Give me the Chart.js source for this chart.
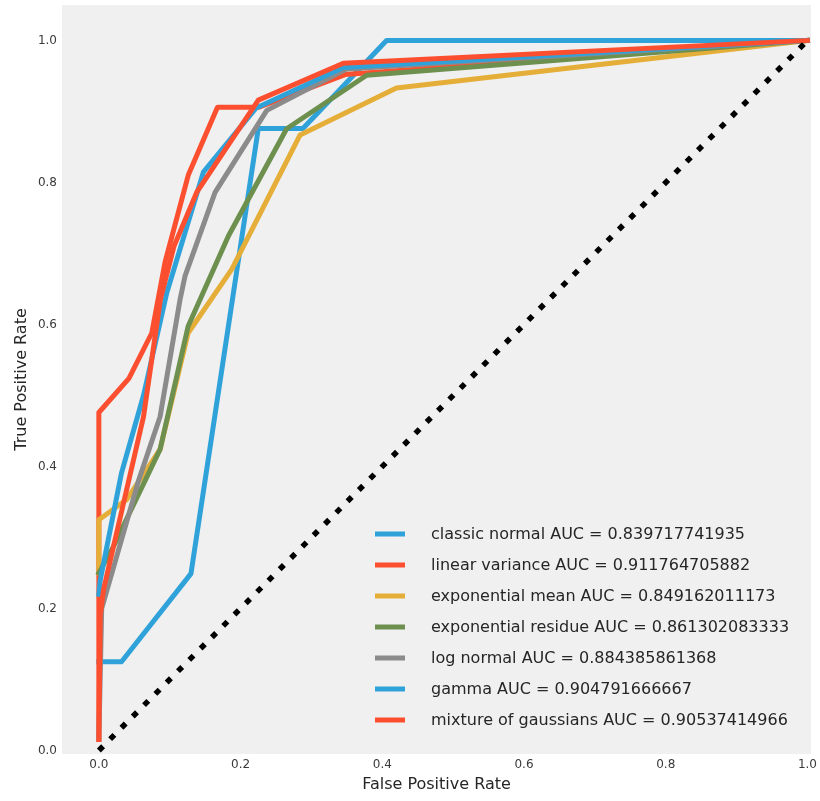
<!DOCTYPE html>
<html>
<head>
<meta charset="utf-8">
<script src="https://cdn.jsdelivr.net/npm/chart.js@4.4.1/dist/chart.umd.min.js"></script>
<style>
  html, body { margin: 0; padding: 0; background: #ffffff; }
  #wrap { width: 820px; height: 801px; }
</style>
</head>
<body>
<div id="wrap"><canvas id="roc"></canvas></div>
<script>
// Legend labels, in plotting order
const seriesLabels = [
    'classic normal AUC = 0.839717741935',
    'linear variance AUC = 0.911764705882',
    'exponential mean AUC = 0.849162011173',
    'exponential residue AUC = 0.861302083333',
    'log normal AUC = 0.884385861368',
    'gamma AUC = 0.904791666667',
    'mixture of gaussians AUC = 0.90537414966'
];
const seriesColors = ['#30a2da', '#fc4f30', '#e5ae38', '#6d904f', '#8b8b8b', '#30a2da', '#fc4f30'];

// ROC points (false positive rate / true positive rate)
const classicFpr = [0, 0.032, 0.13, 0.225, 0.288, 0.406, 1.0];
const classicTpr = [0.125, 0.125, 0.249, 0.876, 0.876, 1.0, 1.0];

const linearFpr = [0, 0, 0.0425, 0.0747, 0.0935, 0.1264, 0.1674, 0.226, 0.3475, 1.0];
const linearTpr = [0.0155, 0.476, 0.524, 0.588, 0.688, 0.811, 0.906, 0.906, 0.952, 1.0];

const expMeanFpr = [0, 0, 0.039, 0.0864, 0.126, 0.1877, 0.284, 0.42, 1.0];
const expMeanTpr = [0.25, 0.325, 0.353, 0.424, 0.588, 0.678, 0.867, 0.933, 1.0];

const expResFpr = [0, 0.0205, 0.0864, 0.126, 0.183, 0.265, 0.378, 1.0];
const expResTpr = [0.25, 0.287, 0.424, 0.5975, 0.725, 0.8757, 0.951, 1.0];

const logNormFpr = [0, 0.004, 0.056, 0.0864, 0.1147, 0.1217, 0.164, 0.237, 0.35, 1.0];
const logNormTpr = [0.0155, 0.2, 0.38, 0.47, 0.6356, 0.6685, 0.786, 0.9016, 0.96, 1.0];

const gammaFpr = [0, 0.002, 0.032, 0.063, 0.096, 0.1475, 0.222, 0.345, 1.0];
const gammaTpr = [0.22, 0.24, 0.391, 0.5, 0.645, 0.8145, 0.905, 0.962, 1.0];

const mixtureFpr = [0, 0.002, 0.0065, 0.063, 0.087, 0.106, 0.138, 0.225, 0.345, 1.0];
const mixtureTpr = [0.0155, 0.19, 0.226, 0.47, 0.636, 0.71, 0.786, 0.916, 0.968, 1.0];

const chanceFpr = [0, 1];
const chanceTpr = [0, 1];

const xTicks = [0.0, 0.2, 0.4, 0.6, 0.8, 1.0];
const yTicks = [0.0, 0.2, 0.4, 0.6, 0.8, 1.0];

const fprList = [classicFpr, linearFpr, expMeanFpr, expResFpr, logNormFpr, gammaFpr, mixtureFpr];
const tprList = [classicTpr, linearTpr, expMeanTpr, expResTpr, logNormTpr, gammaTpr, mixtureTpr];

const FONT = "'DejaVu Sans', sans-serif";

function toPoints(xs, ys) {
    return xs.map((x, i) => ({ x: x, y: ys[i] }));
}

const datasets = seriesLabels.map((label, i) => ({
    label: label,
    data: toPoints(fprList[i], tprList[i]),
    borderColor: seriesColors[i],
    borderWidth: 5,
    borderCapStyle: 'square',
    borderJoinStyle: 'round',
    pointRadius: 0,
    tension: 0,
    fill: false,
    order: seriesLabels.length - i   // later series on top, like matplotlib
}));

// dotted chance line drawn last
datasets.push({
    label: 'chance',
    data: toPoints(chanceFpr, chanceTpr),
    borderColor: '#000000',
    borderWidth: 5.5,
    borderDash: [6, 10],
    pointRadius: 0,
    fill: false,
    order: 0
});

// grey plot background
const plotBackground = {
    id: 'plotBackground',
    beforeDraw(chart) {
        const { ctx, chartArea: a } = chart;
        ctx.save();
        ctx.fillStyle = '#f0f0f0';
        ctx.fillRect(a.left, a.top, a.right - a.left, a.bottom - a.top);
        ctx.restore();
    }
};

// frameless legend in the lower right of the plot
const insideLegend = {
    id: 'insideLegend',
    afterDraw(chart) {
        const { ctx, chartArea: a } = chart;
        const rowH = 31;
        const x0 = a.right - 436;
        const yLast = a.bottom - 34;
        ctx.save();
        ctx.font = '16px ' + FONT;
        ctx.textBaseline = 'middle';
        seriesLabels.forEach((label, i) => {
            const y = yLast - (seriesLabels.length - 1 - i) * rowH;
            ctx.strokeStyle = seriesColors[i];
            ctx.lineWidth = 5;
            ctx.beginPath();
            ctx.moveTo(x0, y);
            ctx.lineTo(x0 + 30, y);
            ctx.stroke();
            ctx.fillStyle = '#262626';
            ctx.fillText(label, x0 + 56, y + 1);
        });
        ctx.restore();
    }
};

new Chart(document.getElementById('roc'), {
    type: 'line',
    data: { datasets: datasets },
    options: {
        responsive: true,
        maintainAspectRatio: false,
        animation: false,
        layout: { padding: { top: 5, right: 9, left: 0, bottom: 0 } },
        plugins: {
            legend: { display: false },
            tooltip: { enabled: false }
        },
        scales: {
            x: {
                type: 'linear',
                min: -0.052,
                max: 1.005,
                grid: { display: false, drawTicks: false },
                border: { display: false },
                afterFit: (scale) => {
                    scale.height = 47;
                    scale.paddingLeft = 0;
                    scale.paddingRight = 0;
                },
                afterBuildTicks: (scale) => { scale.ticks = xTicks.map(v => ({ value: v })); },
                ticks: {
                    padding: 4,
                    color: '#3a3a3a',
                    font: { family: FONT, size: 12 },
                    callback: (v) => v.toFixed(1)
                },
                title: {
                    display: true,
                    text: 'False Positive Rate',
                    color: '#262626',
                    font: { family: FONT, size: 16 },
                    padding: { top: 0, bottom: 7 }
                }
            },
            y: {
                type: 'linear',
                min: -0.005,
                max: 1.05,
                grid: { display: false, drawTicks: false },
                border: { display: false },
                afterFit: (scale) => {
                    scale.width = 62;
                    scale.paddingTop = 0;
                    scale.paddingBottom = 0;
                },
                afterBuildTicks: (scale) => { scale.ticks = yTicks.map(v => ({ value: v })); },
                ticks: {
                    padding: 5,
                    color: '#3a3a3a',
                    font: { family: FONT, size: 12 },
                    callback: (v) => v.toFixed(1)
                },
                title: {
                    display: true,
                    text: 'True Positive Rate',
                    color: '#262626',
                    font: { family: FONT, size: 16 },
                    padding: { top: 12, bottom: 0 }
                }
            }
        }
    },
    plugins: [plotBackground, insideLegend]
});
</script>
</body>
</html>
